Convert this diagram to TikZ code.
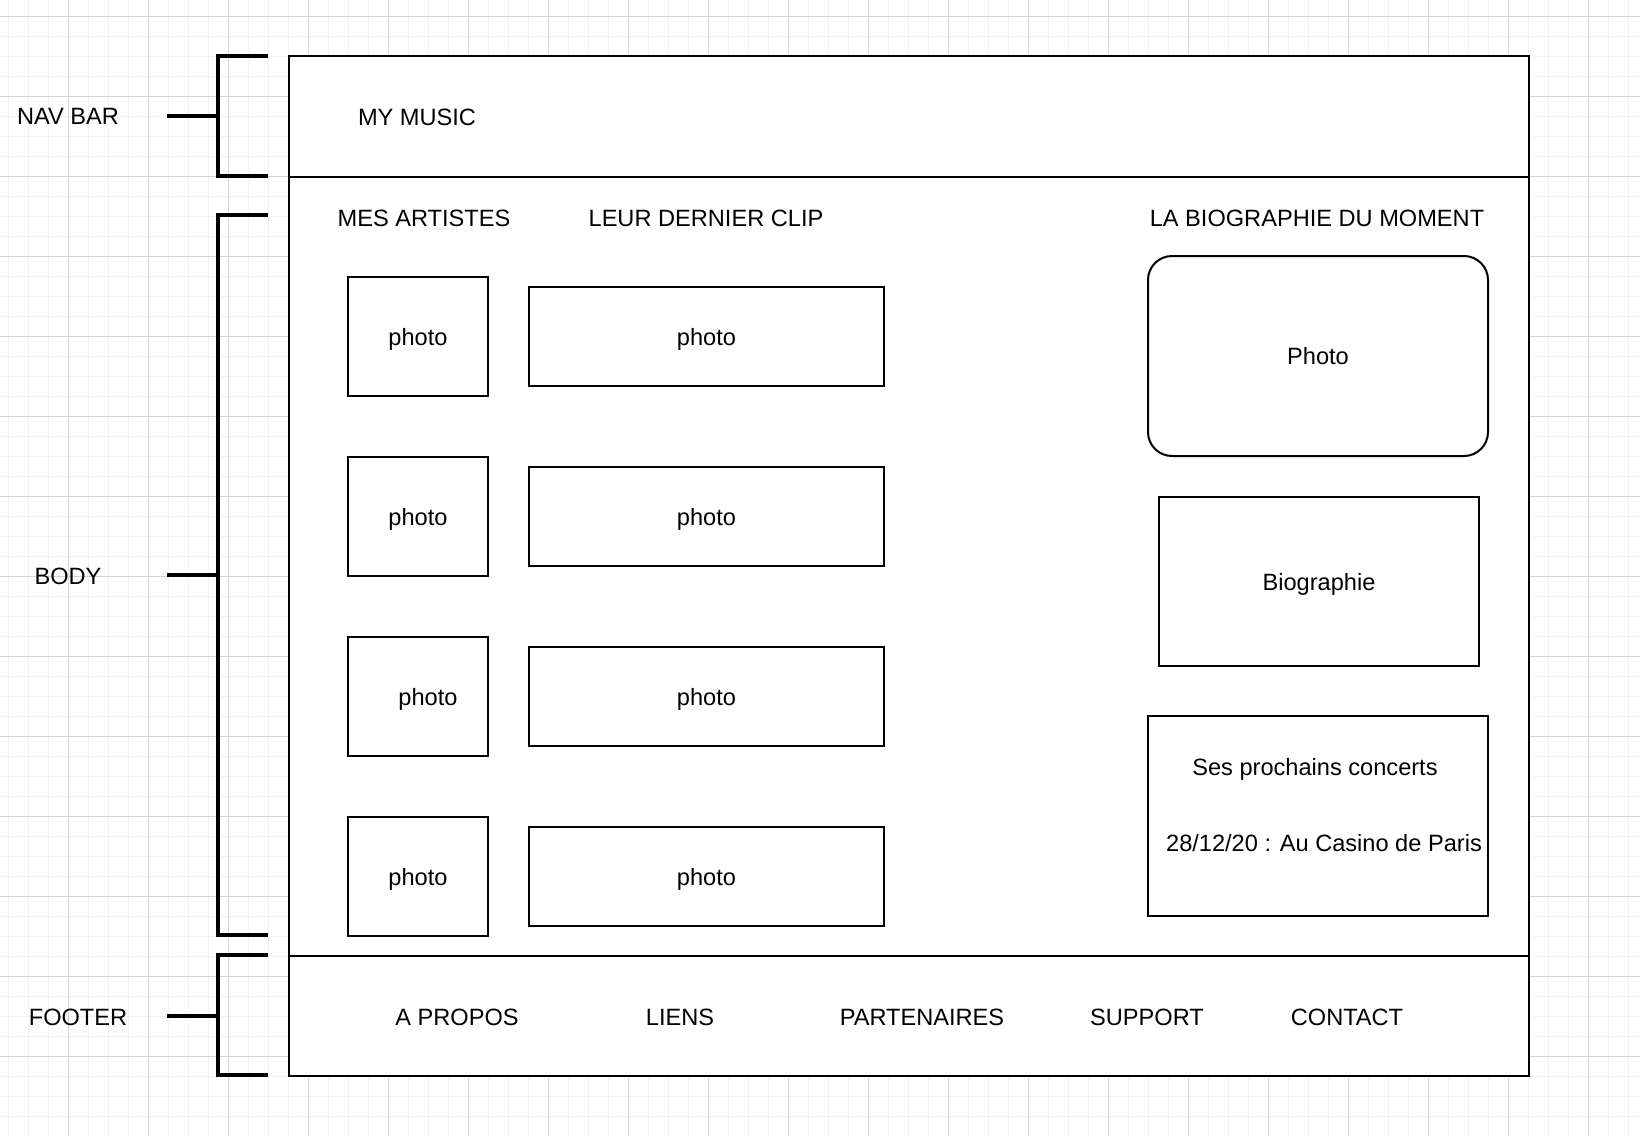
\documentclass[tikz,border=0pt]{standalone}
\usepackage{fontspec}
\setmainfont{Liberation Sans}
\definecolor{gridMinor}{RGB}{243,243,243}
\definecolor{gridMajor}{RGB}{212,212,212}

\begin{document}
\begin{tikzpicture}[x=0.5pt,y=-0.5pt,
  every node/.style={font=\fontsize{11.8}{14}\selectfont},
  frame/.style={draw=black,line width=1pt,fill=white,inner sep=0pt,text depth=0pt},
  bracket/.style={draw=black,line width=2pt}]
\useasboundingbox (0,0) rectangle (1640,1136);
\fill[white] (0,0) rectangle (1640,1136);
% grille de fond
\foreach \x in {8,28,...,1628} \draw[gridMinor,line width=0.5pt] (\x,0) -- (\x,1136);
\foreach \y in {16,36,...,1136} \draw[gridMinor,line width=0.5pt] (0,\y) -- (1640,\y);
\foreach \x in {68,148,...,1588} \draw[gridMajor,line width=0.5pt] (\x,0) -- (\x,1136);
\foreach \y in {16,96,...,1056} \draw[gridMajor,line width=0.5pt] (0,\y) -- (1640,\y);

% les trois zones de la page
\node[frame,minimum width=620pt,minimum height=60.5pt] (nav) at (909,116.5) {};
\node[frame,minimum width=620pt,minimum height=389.5pt] (body) at (909,566.5) {};
\node[frame,minimum width=620pt,minimum height=60pt] (foot) at (909,1016) {};

\node (myMusic) at (417,117) {MY MUSIC};
\node (artistsTitle) at (424,218) {MES ARTISTES};
\node (clipTitle) at (706,218) {LEUR DERNIER CLIP};
\node (bioTitle) at (1317,218) {LA BIOGRAPHIE DU MOMENT};

% artistes et clips
\foreach \i/\y/\dx in {1/336.5/0pt,2/516.5/0pt,3/696.5/10pt,4/876.5/0pt}{
  \node[frame,minimum width=70pt,minimum height=59.5pt] (art\i) at (418,\y) {\hspace*{\dx}photo};
  \node[frame,minimum width=177.5pt,minimum height=49.5pt] (clip\i) at (706.5,\y) {photo};
}

% colonne biographie
\node[frame,rounded corners=12pt,minimum width=170pt,minimum height=100pt] (bioPhoto) at (1318,356) {Photo};
\node[frame,minimum width=160pt,minimum height=84.5pt] (bioText) at (1319,581.5) {Biographie};
\node[frame,minimum width=170pt,minimum height=100pt] (concerts) at (1318,816) {};
\node (concertsTitle) at (1315,769) {Ses prochains concerts};
\node (concertDate) at (1324,843) {28/12/20 : Au Casino de Paris};

% pied de page
\node (aPropos) at (457,1017) {A PROPOS};
\node (liens) at (680,1017) {LIENS};
\node (partners) at (922,1017) {PARTENAIRES};
\node (support) at (1147,1017) {SUPPORT};
\node (contact) at (1347,1017) {CONTACT};

% accolades et libelles
\node (navLbl) at (68,116) {NAV BAR};
\node (bodyLbl) at (68,576) {BODY};
\node (footLbl) at (78,1017) {FOOTER};

\coordinate (navTop) at (268,56);
\coordinate (navBot) at (268,176);
\coordinate (navTick) at (167,116);
\coordinate (bodyTop) at (268,215);
\coordinate (bodyBot) at (268,935);
\coordinate (bodyTick) at (167,575);
\coordinate (footTop) at (268,955);
\coordinate (footBot) at (268,1075);
\coordinate (footTick) at (167,1016);

\foreach \s in {nav,body,foot}{
  \draw[bracket] (\s Top) -| ([xshift=-25pt]\s Top |- \s Tick) |- (\s Bot);
  \draw[bracket] (\s Tick) -- ([xshift=-25pt]\s Top |- \s Tick);
}
\end{tikzpicture}
\end{document}
